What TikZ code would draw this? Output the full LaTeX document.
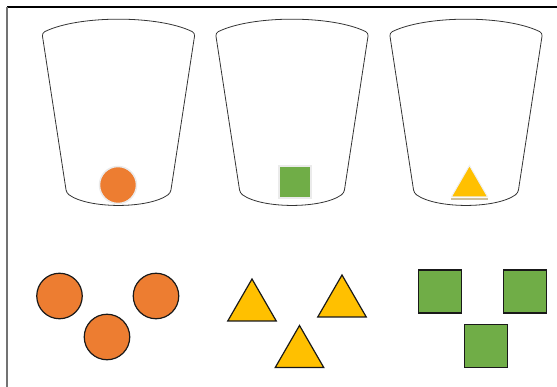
\documentclass[tikz,border=0pt]{standalone}
\usepackage{xcolor}
\usepackage{tikz}
\usetikzlibrary{shapes.geometric}
\definecolor{orng}{HTML}{ED7D31}
\definecolor{grn}{HTML}{70AD47}
\definecolor{ylw}{HTML}{FFC000}
\definecolor{tan}{HTML}{CDBE9C}
\begin{document}
\begin{tikzpicture}[x=1pt, y=-1pt,
    cup/.style={draw=black!80, line width=0.8pt, rounded corners=3pt},
    ball/.style={circle, fill=orng, draw=black!90, line width=1.2pt, minimum size=45.5pt, inner sep=0pt},
    block/.style={rectangle, fill=grn, draw=black!90, line width=1.2pt, minimum size=43pt, inner sep=0pt},
    cone/.style={regular polygon, regular polygon sides=3, fill=ylw, draw=black!90, line width=1.2pt, minimum size=56pt, inner sep=0pt}
]
\useasboundingbox (0,0) rectangle (557,387);
% frame
\draw[black, line width=1.1pt] (7,7) -- (557,7);
\draw[black!55, line width=1.2pt] (7,7) -- (7,387);
% cups
\foreach \cx in {118.5, 292, 466} {
  \draw[cup] (\cx-76.5,33) .. controls (\cx-40,15) and (\cx+40,15) .. (\cx+76.5,33)
    -- (\cx+52,193) .. controls (\cx+30,209) and (\cx-30,209) .. (\cx-52,193) -- cycle;
}
% shapes inside the cups
\node[ball, draw=black!8, line width=1.5pt, minimum size=37pt] (inball) at (118,185) {};
\node[block, draw=black!8, line width=1.5pt, minimum size=32pt] (inblock) at (295,182) {};
\draw[tan, line width=1.2pt] (451,199) -- (488,199);
\node[cone, draw=black!6, line width=1pt, minimum size=42pt] (incone) at (469.5,186.5) {};
% loose balls
\node[ball] (b1) at (59.5,296) {};
\node[ball] (b2) at (107,337) {};
\node[ball] (b3) at (156,296) {};
% loose cones
\node[cone] (t1) at (252,307) {};
\node[cone] (t2) at (342,303) {};
\node[cone] (t3) at (299.5,353.5) {};
% loose blocks
\node[block] (s1) at (440,291.5) {};
\node[block] (s2) at (525,291.5) {};
\node[block] (s3) at (486,346) {};
\end{tikzpicture}
\end{document}
